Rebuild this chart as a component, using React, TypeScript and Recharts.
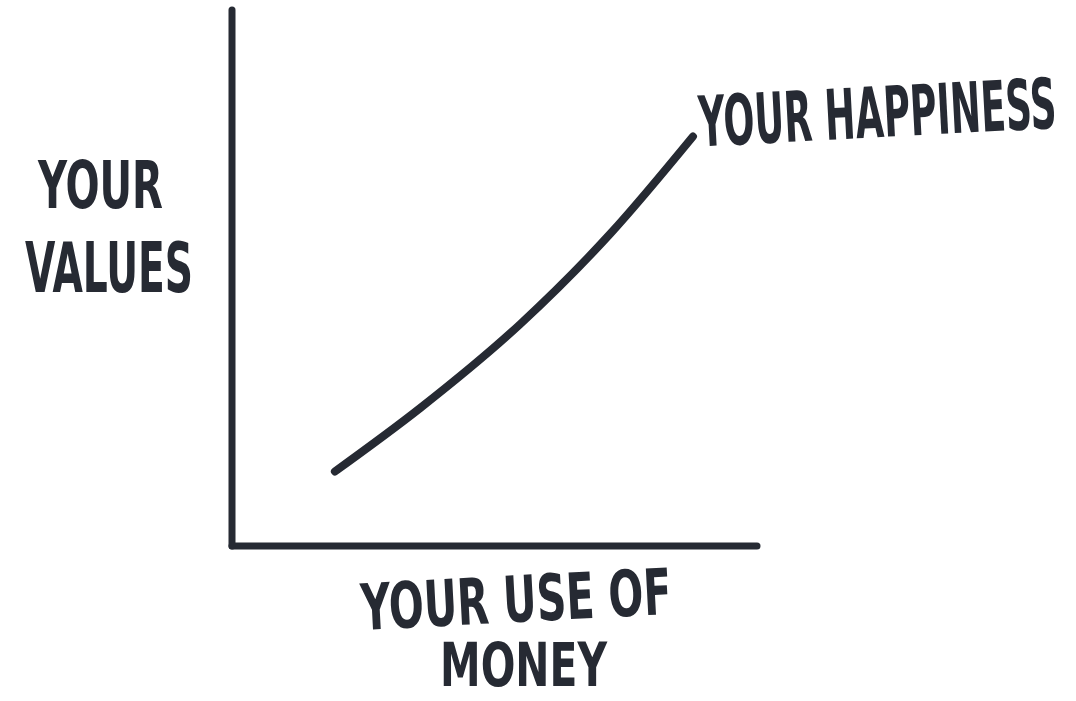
import React from 'react';
import { LineChart, Line, XAxis, YAxis, Label, LabelList } from 'recharts';

// sketch: happiness rises with how money is used
const money = [19.6, 35.8, 54.9, 72, 87.8];
const happiness = [13.9, 25.7, 41.4, 58.2, 76.4];
const xTitle = ['YOUR USE OF', 'MONEY'];
const yTitle = ['YOUR', 'VALUES'];
const seriesName = 'YOUR HAPPINESS';

const data = money.map((m, i) => ({ money: m, happiness: happiness[i] }));

const INK = '#262a33';
const FONT = "'DejaVu Sans Condensed', 'Liberation Sans Narrow', sans-serif";

// marker-style caps: narrow glyphs stretched vertically
const InkText = ({ x, y, size, width, tilt = 0, stretch = 1.6, children }: any) => (
  <text
    transform={`translate(${x} ${y}) rotate(${tilt}) scale(1 ${stretch})`}
    x={0}
    y={0}
    fill={INK}
    fontFamily={FONT}
    fontWeight={700}
    fontSize={size / stretch}
    textLength={width}
    lengthAdjust="spacingAndGlyphs"
  >
    {children}
  </text>
);

const YTitle = (props: any) => {
  const { viewBox } = props;
  const x0 = viewBox.x + viewBox.width;
  const y0 = viewBox.y;
  return (
    <g>
      <InkText x={x0 - 194} y={y0 + 198} size={66} width={125}>
        {yTitle[0]}
      </InkText>
      <InkText x={x0 - 207} y={y0 + 282} size={70} width={168} stretch={1.75}>
        {yTitle[1]}
      </InkText>
    </g>
  );
};

const XTitle = (props: any) => {
  const { viewBox } = props;
  const x0 = viewBox.x;
  const y0 = viewBox.y;
  return (
    <g>
      <InkText x={x0 + 130} y={y0 + 84} size={64} width={311} tilt={-3}>
        {xTitle[0]}
      </InkText>
      <InkText x={x0 + 208} y={y0 + 140} size={60} width={167} stretch={1.45}>
        {xTitle[1]}
      </InkText>
    </g>
  );
};

const EndLabel = (props: any) => {
  const { x, y, index } = props;
  if (index !== data.length - 1) return null;
  return (
    <InkText x={x + 7} y={y + 10} size={70} width={358} tilt={-3} stretch={1.85}>
      {seriesName}
    </InkText>
  );
};

export default function App() {
  return (
    <div style={{ position: 'absolute', left: 0, top: 0, width: 1076, height: 701, background: '#fff' }}>
      <LineChart
        width={1076}
        height={701}
        data={data}
        margin={{ top: 10, right: 319, bottom: 125, left: 172 }}
      >
        <XAxis
          dataKey="money"
          type="number"
          domain={[0, 100]}
          height={30}
          tick={false}
          tickLine={false}
          axisLine={{ stroke: INK, strokeWidth: 7, strokeLinecap: 'round' }}
        >
          <Label content={<XTitle />} />
        </XAxis>
        <YAxis
          type="number"
          domain={[0, 100]}
          width={60}
          tick={false}
          tickLine={false}
          axisLine={{ stroke: INK, strokeWidth: 7, strokeLinecap: 'round' }}
        >
          <Label content={<YTitle />} />
        </YAxis>
        <Line
          type="monotone"
          dataKey="happiness"
          stroke={INK}
          strokeWidth={8}
          strokeLinecap="round"
          dot={false}
          isAnimationActive={false}
        >
          <LabelList dataKey="happiness" content={<EndLabel />} />
        </Line>
      </LineChart>
    </div>
  );
}
